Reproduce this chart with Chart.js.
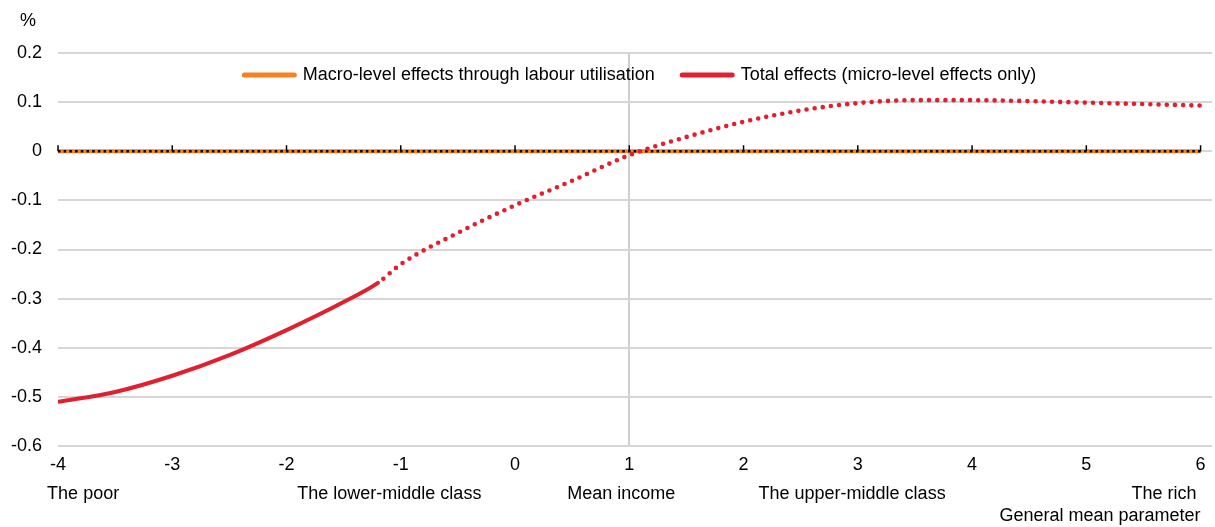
<!DOCTYPE html>
<html>
<head>
<meta charset="utf-8">
<script src="https://cdn.jsdelivr.net/npm/chart.js@4"></script>
<style>
  html, body { margin: 0; padding: 0; background: #fff; }
  #wrap { width: 1215px; height: 527px; }
</style>
</head>
<body>
<div id="wrap"><canvas id="effectsChart"></canvas></div>
<script>
// general mean parameter (x) and effect in %
var xValues = [-4, -3.5, -3, -2.5, -2, -1.5, -1.2, -1, -0.5, 0, 0.5, 1, 1.5, 2, 2.5, 3, 3.5, 4, 4.5, 5, 5.5, 6];
var totalEffects = [-0.510, -0.490, -0.457, -0.415, -0.364, -0.307, -0.268, -0.230, -0.166, -0.110, -0.060, -0.008, 0.029, 0.060, 0.083, 0.098, 0.104, 0.104, 0.102, 0.099, 0.096, 0.093];
var dottedFrom = -1.2;

var macroX = [-4, 6];
var macroEffects = [0, 0];

var classLabels = ['The poor', 'The lower-middle class', 'Mean income', 'The upper-middle class', 'The rich'];
var classAt = [-3.78, -1.1, 0.93, 2.95, 5.68];
var xTitle = 'General mean parameter';
var yUnit = '%';

var xTicks = [-4, -3, -2, -1, 0, 1, 2, 3, 4, 5, 6];
var yTicks = [0.2, 0.1, 0, -0.1, -0.2, -0.3, -0.4, -0.5, -0.6];

var FONT = "'Liberation Sans', Arial, sans-serif";
var FSIZE = 18;
var ORANGE = '#F5821F';
var RED = '#E0202E';

function pts(xs, ys) {
    return xs.map(function (x, i) { return {x: x, y: ys[i]}; });
}

// black dotted zero axis with small tick marks (drawn over the orange line),
// class labels under the x ticks, axis titles and the legend inside the plot
var extras = {
    id: 'extras',
    afterDatasetDraw: function (chart, args) {
        if (args.index !== 0) return;
        var ctx = chart.ctx, xs = chart.scales.x, y0 = chart.scales.y.getPixelForValue(0);
        var x1 = xs.getPixelForValue(-4), x2 = xs.getPixelForValue(6);
        ctx.save();
        ctx.strokeStyle = '#000';
        ctx.lineWidth = 2.5;
        ctx.setLineDash([2.5, 3.2]);
        ctx.beginPath();
        ctx.moveTo(x1, y0);
        ctx.lineTo(x2, y0);
        ctx.stroke();
        ctx.setLineDash([]);
        ctx.lineWidth = 1.5;
        xTicks.forEach(function (v) {
            var px = xs.getPixelForValue(v);
            ctx.beginPath();
            ctx.moveTo(px, y0);
            ctx.lineTo(px, y0 - 6);
            ctx.stroke();
        });
        ctx.restore();
    },
    afterDraw: function (chart) {
        var ctx = chart.ctx, xs = chart.scales.x, area = chart.chartArea;
        ctx.save();
        ctx.font = FSIZE + 'px ' + FONT;
        ctx.fillStyle = '#000';
        ctx.textAlign = 'center';
        ctx.textBaseline = 'middle';
        classLabels.forEach(function (t, i) {
            ctx.fillText(t, xs.getPixelForValue(classAt[i]), 494);
        });
        ctx.fillText(yUnit, 28, 21);
        ctx.textAlign = 'right';
        ctx.fillText(xTitle, xs.getPixelForValue(6), 516);

        // legend
        var boxW = 55, gap = 6, itemGap = 25, ly = 75;
        var sets = chart.data.datasets;
        var total = 0;
        sets.forEach(function (d, i) {
            total += boxW + gap + ctx.measureText(d.label).width + (i ? itemGap : 0);
        });
        var lx = (area.left + area.right) / 2 - total / 2 + 4;
        ctx.textAlign = 'left';
        sets.forEach(function (d) {
            ctx.fillStyle = d.borderColor;
            ctx.beginPath();
            ctx.roundRect(lx, ly - 2.5, boxW, 5, 2.5);
            ctx.fill();
            lx += boxW + gap;
            ctx.fillStyle = '#000';
            ctx.fillText(d.label, lx, ly);
            lx += ctx.measureText(d.label).width + itemGap;
        });
        ctx.restore();
    }
};

var data = {
    datasets: [
        {
            label: 'Macro-level effects through labour utilisation',
            data: pts(macroX, macroEffects),
            borderColor: ORANGE,
            backgroundColor: ORANGE,
            borderWidth: 4,
            pointRadius: 0,
            order: 2
        },
        {
            label: 'Total effects (micro-level effects only)',
            data: pts(xValues, totalEffects),
            borderColor: RED,
            backgroundColor: RED,
            borderWidth: 4,
            borderCapStyle: 'round',
            pointRadius: 0,
            cubicInterpolationMode: 'monotone',
            order: 1,
            segment: {
                borderDash: function (c) { return c.p0.parsed.x >= dottedFrom ? [0, 8.2] : undefined; },
                borderDashOffset: function (c) { return c.p0.parsed.x >= dottedFrom ? -7 : undefined; },
                borderWidth: function (c) { return c.p0.parsed.x >= dottedFrom ? 4.6 : undefined; }
            }
        }
    ]
};

var options = {
    responsive: true,
    maintainAspectRatio: false,
    animation: false,
    layout: {padding: {left: 0, right: 3, top: 53, bottom: 0}},
    plugins: {
        tooltip: {enabled: false},
        legend: {display: false},
        title: {display: false}
    },
    scales: {
        x: {
            type: 'linear',
            min: -4,
            max: 6.1,
            afterBuildTicks: function (s) {
                s.ticks = xTicks.map(function (v) { return {value: v}; });
            },
            afterFit: function (s) { s.height = 81; },
            ticks: {
                color: '#000',
                font: {family: FONT, size: FSIZE},
                padding: 8,
                maxRotation: 0,
                autoSkip: false
            },
            grid: {
                drawTicks: false,
                lineWidth: 2,
                color: function (c) { return c.tick && c.tick.value === 1 ? '#cfcfcf' : 'rgba(0,0,0,0)'; }
            },
            border: {display: false}
        },
        y: {
            min: -0.6,
            max: 0.2,
            afterBuildTicks: function (s) {
                s.ticks = yTicks.map(function (v) { return {value: v}; });
            },
            afterFit: function (s) { s.width = 58; },
            ticks: {
                color: '#000',
                font: {family: FONT, size: FSIZE},
                padding: 16,
                callback: function (v) { return String(Math.round(v * 10) / 10); }
            },
            grid: {
                drawTicks: false,
                lineWidth: 2,
                color: '#d6d6d6'
            },
            border: {display: false}
        }
    }
};

var chart = new Chart(document.getElementById('effectsChart'), {
    type: 'line',
    data: data,
    options: options,
    plugins: [extras]
});
</script>
</body>
</html>
